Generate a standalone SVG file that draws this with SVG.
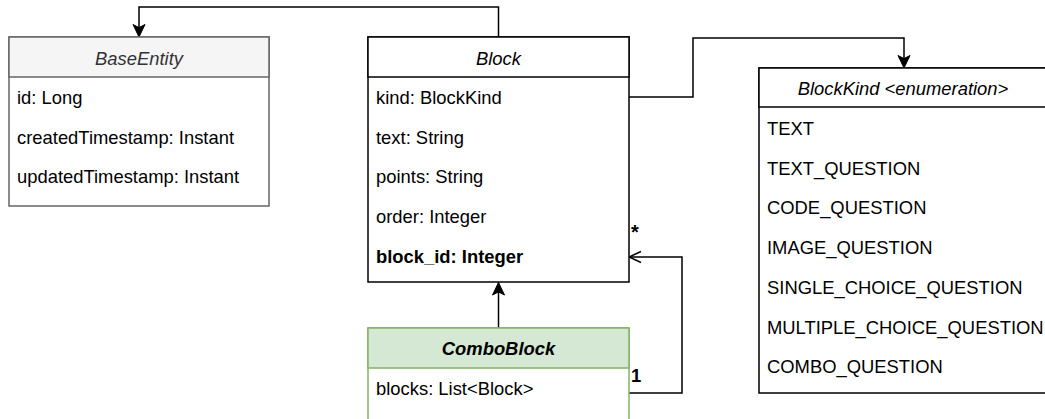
<svg xmlns="http://www.w3.org/2000/svg" width="1045" height="419" viewBox="0 0 1045 419">
  <style>
    text { font-family: "Liberation Sans", Arial, sans-serif; font-size: 18.4px; fill: #000000; }
    .title { font-style: italic; text-anchor: middle; }
    .bold { font-weight: bold; }
    .mult { font-size: 20px; }
    .box { fill: #ffffff; stroke: #000000; stroke-width: 1.5; }
    .hdr { fill: #ffffff; stroke: #000000; stroke-width: 1.5; }
    .gray .box { stroke: #666666; }
    .gray .hdr { fill: #f5f5f5; stroke: #666666; }
    .gray .title { fill: #333333; }
    .green .box { stroke: #82b366; }
    .green .hdr { fill: #d5e8d4; stroke: #82b366; }
    .edge { fill: none; stroke: #000000; stroke-width: 1.5; }
  </style>
  <defs>
    <marker id="filled" markerUnits="userSpaceOnUse" viewBox="-14 -8 15 16" refX="0" refY="0" markerWidth="15" markerHeight="16" orient="auto">
      <path d="M0,0 L-12.5,-6 L-9.4,0 L-12.5,6 Z" fill="#000000" stroke="#000000" stroke-width="1"/>
    </marker>
    <marker id="open" markerUnits="userSpaceOnUse" viewBox="-14 -8 15 16" refX="0" refY="0" markerWidth="15" markerHeight="16" orient="auto">
      <path d="M-12,-5.5 L0,0 L-12,5.5" fill="none" stroke="#000000" stroke-width="1.5"/>
    </marker>
  </defs>

  <!-- connectors -->
  <g id="connectors">
    <path class="edge" d="M498.5,37 L498.5,7 L139,7 L139,37" marker-end="url(#filled)"/>
    <path class="edge" d="M629,97 L693,97 L693,38 L904,38 L904,68" marker-end="url(#filled)"/>
    <path class="edge" d="M498.5,328 L498.5,282.5" marker-end="url(#filled)"/>
    <path class="edge" d="M629,393 L682,393 L682,257 L629,257" marker-end="url(#open)"/>
    <text class="bold mult" x="631" y="239">*</text>
    <text class="bold" x="631" y="382">1</text>
  </g>

  <!-- BaseEntity -->
  <g id="BaseEntity" class="gray">
    <rect class="box" x="9" y="37" width="260" height="169"/>
    <rect class="hdr" x="9" y="37" width="260" height="40"/>
    <text class="title" x="139" y="64.5">BaseEntity</text>
    <text x="17" y="104">id: Long</text>
    <text x="17" y="143.7">createdTimestamp: Instant</text>
    <text x="17" y="183.4">updatedTimestamp: Instant</text>
  </g>

  <!-- Block -->
  <g id="Block">
    <rect class="box" x="368" y="37" width="261" height="245"/>
    <rect class="hdr" x="368" y="37" width="261" height="40"/>
    <text class="title" x="498.5" y="64.5">Block</text>
    <text x="376" y="104">kind: BlockKind</text>
    <text x="376" y="143.7">text: String</text>
    <text x="376" y="183.4">points: String</text>
    <text x="376" y="223.1">order: Integer</text>
    <text class="bold" x="376" y="262.8">block_id: Integer</text>
  </g>

  <!-- BlockKind enumeration -->
  <g id="BlockKind">
    <rect class="box" x="759" y="68" width="290" height="325"/>
    <rect class="hdr" x="759" y="68" width="290" height="39"/>
    <text class="title" x="903" y="95">BlockKind &lt;enumeration&gt;</text>
    <text x="767" y="135">TEXT</text>
    <text x="767" y="174.7">TEXT_QUESTION</text>
    <text x="767" y="214.4">CODE_QUESTION</text>
    <text x="767" y="254.1">IMAGE_QUESTION</text>
    <text x="767" y="293.8">SINGLE_CHOICE_QUESTION</text>
    <text x="767" y="333.5">MULTIPLE_CHOICE_QUESTION</text>
    <text x="767" y="373.2">COMBO_QUESTION</text>
  </g>

  <!-- ComboBlock -->
  <g id="ComboBlock" class="green">
    <rect class="box" x="368" y="328" width="261" height="110"/>
    <rect class="hdr" x="368" y="328" width="261" height="40"/>
    <text class="title bold" x="498.5" y="355">ComboBlock</text>
    <text x="376" y="394.5">blocks: List&lt;Block&gt;</text>
  </g>
</svg>
